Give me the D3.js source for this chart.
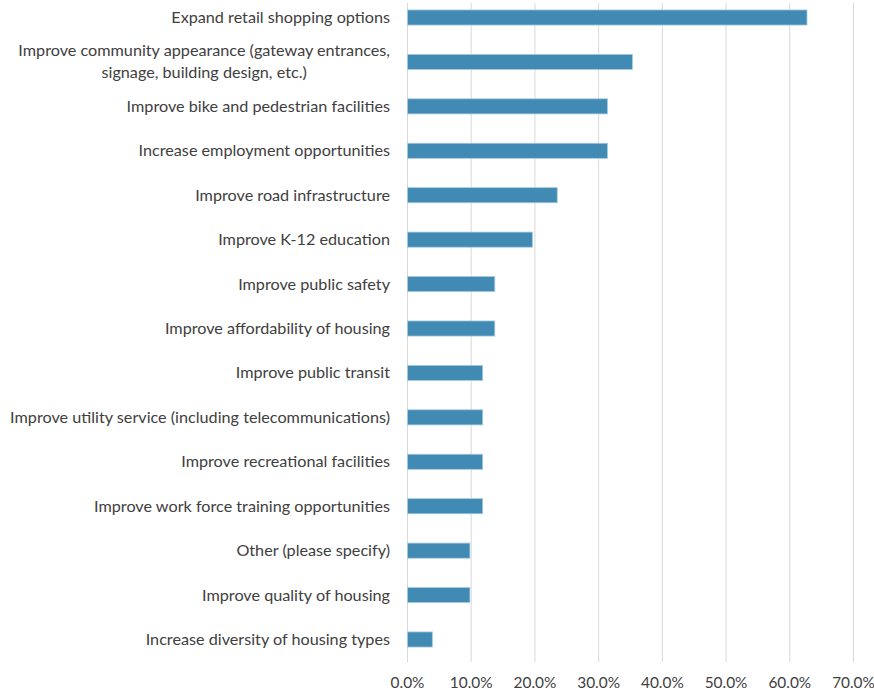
<!DOCTYPE html>
<html>
<head>
<meta charset="utf-8">
<script src="https://cdn.jsdelivr.net/npm/d3@7"></script>
<style>
  body { margin: 0; background: #fff; }
  #chart { width: 874px; height: 692px; }
  text { font-family: Lato, "Open Sans", sans-serif; fill: #404040; }
</style>
</head>
<body>
<div id="chart"></div>
<script>
// categories, top to bottom (each entry is a list of lines)
const categories = [
  ['Expand retail shopping options'],
  ['Improve community appearance (gateway entrances,', 'signage, building design, etc.)'],
  ['Improve bike and pedestrian facilities'],
  ['Increase employment opportunities'],
  ['Improve road infrastructure'],
  ['Improve K-12 education'],
  ['Improve public safety'],
  ['Improve affordability of housing'],
  ['Improve public transit'],
  ['Improve utility service (including telecommunications)'],
  ['Improve recreational facilities'],
  ['Improve work force training opportunities'],
  ['Other (please specify)'],
  ['Improve quality of housing'],
  ['Increase diversity of housing types']
];
const values = [0.627, 0.353, 0.314, 0.314, 0.235, 0.196, 0.137, 0.137,
  0.118, 0.118, 0.118, 0.118, 0.098, 0.098, 0.039];
const ticks = [0, 0.1, 0.2, 0.3, 0.4, 0.5, 0.6, 0.7];

const width = 874, height = 692;
const svg = d3.select('#chart').append('svg')
  .attr('width', width).attr('height', height);

const x = d3.scaleLinear().domain([0, 0.7]).range([407.5, 853.5]);
const y = d3.scaleBand()
  .domain(d3.range(categories.length))
  .range([-4.7, 661.7])
  .paddingInner(0.66)
  .paddingOuter(0.33);

const gridTop = 3, gridBottom = 662;

// gridlines
svg.append('g').selectAll('line').data(ticks).join('line')
  .attr('x1', d => x(d)).attr('x2', d => x(d))
  .attr('y1', gridTop).attr('y2', gridBottom)
  .attr('stroke', '#d9d9d9').attr('stroke-width', 1);

// tick labels
svg.append('g').selectAll('text').data(ticks).join('text')
  .attr('x', d => x(d)).attr('y', 682)
  .attr('text-anchor', 'middle')
  .attr('dominant-baseline', 'central')
  .attr('font-size', '15.4px')
  .text(d => d3.format('.1%')(d));

// bars
svg.append('g').selectAll('rect').data(values).join('rect')
  .attr('x', x(0))
  .attr('y', (d, i) => y(i))
  .attr('width', d => x(d) - x(0))
  .attr('height', y.bandwidth())
  .attr('fill', '#418ab3')
  .attr('stroke', '#a9cbe0')
  .attr('stroke-width', 0.8);

// category labels
const labelX = 390;
const lineH = 22;
const lg = svg.append('g');
categories.forEach((lines, i) => {
  const cy = y(i) + y.bandwidth() / 2 - 1.5;
  const t = lg.append('text')
    .attr('font-size', '16.2px')
    .attr('dominant-baseline', 'central');
  lines.forEach((ln, j) => {
    t.append('tspan')
      .attr('y', cy + (j - (lines.length - 1) / 2) * lineH)
      .text(ln);
  });
  if (lines.length === 1) {
    t.attr('text-anchor', 'end').selectAll('tspan').attr('x', labelX);
  } else {
    const w = d3.max(t.selectAll('tspan').nodes(), n => n.getComputedTextLength());
    t.attr('text-anchor', 'middle').selectAll('tspan').attr('x', labelX - w / 2);
  }
});
</script>
</body>
</html>
